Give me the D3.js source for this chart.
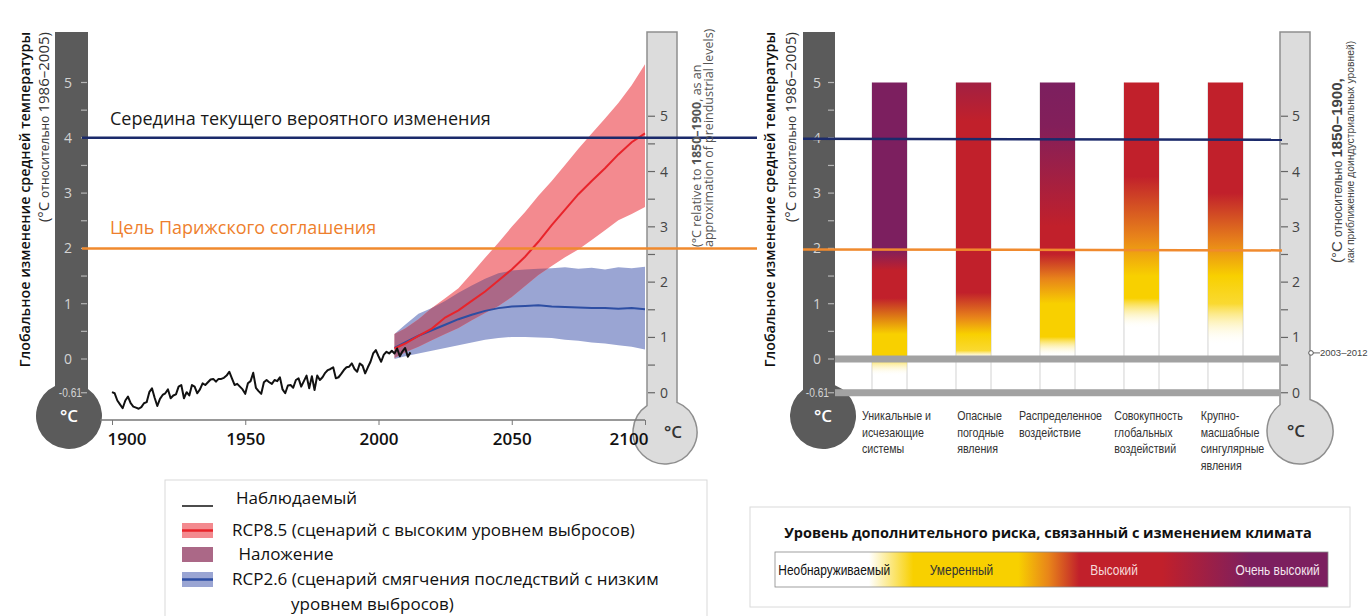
<!DOCTYPE html>
<html><head><meta charset="utf-8">
<script src="https://cdn.jsdelivr.net/npm/d3@7"></script>
<style>
body{margin:0;background:#fff;}
svg{display:block;}
</style></head><body>
<svg id="c" width="1368" height="616"></svg>
<script>
// ---------------- DATA ----------------
const obsStartYear = 1900;
const observed = [
-0.60,-0.62,-0.75,-0.82,-0.89,-0.75,-0.68,-0.80,-0.86,-0.88,
-0.90,-0.87,-0.80,-0.78,-0.60,-0.53,-0.70,-0.85,-0.72,-0.65,
-0.62,-0.55,-0.71,-0.66,-0.64,-0.50,-0.47,-0.71,-0.60,-0.66,
-0.47,-0.50,-0.62,-0.55,-0.44,-0.47,-0.42,-0.37,-0.36,-0.41,
-0.36,-0.36,-0.34,-0.30,-0.23,-0.35,-0.47,-0.45,-0.50,-0.55,
-0.63,-0.44,-0.40,-0.25,-0.52,-0.58,-0.63,-0.42,-0.38,-0.42,
-0.45,-0.38,-0.40,-0.33,-0.55,-0.62,-0.48,-0.47,-0.52,-0.38,
-0.35,-0.50,-0.40,-0.30,-0.53,-0.31,-0.56,-0.30,-0.38,-0.33,
-0.25,-0.20,-0.18,-0.15,-0.35,-0.33,-0.27,-0.20,-0.15,-0.14,
-0.08,-0.18,-0.23,-0.08,-0.12,-0.26,-0.15,-0.05,0.10,0.16,
0.05,-0.05,0.08,0.13,0.10,0.15,0.10,0.19,0.05,0.14,
0.20,0.04,0.12];
const projYears  = [2006,2010,2015,2020,2025,2030,2035,2040,2045,2050,2055,2060,2065,2070,2075,2080,2085,2090,2095,2100];
const rcp85Mean  = [0.19,0.28,0.42,0.55,0.75,0.88,1.05,1.22,1.42,1.62,1.85,2.12,2.42,2.70,2.98,3.22,3.45,3.70,3.92,4.08];
const rcp85High  = [0.45,0.55,0.72,0.92,1.10,1.28,1.55,1.83,2.10,2.39,2.66,2.95,3.22,3.51,3.80,4.08,4.35,4.63,4.95,5.33];
const rcp85Low   = [0.02,0.12,0.22,0.34,0.45,0.56,0.70,0.83,0.96,1.12,1.32,1.52,1.68,1.84,1.98,2.15,2.33,2.51,2.62,2.75];
const rcp26Mean  = [0.20,0.30,0.42,0.52,0.62,0.72,0.80,0.87,0.92,0.95,0.96,0.97,0.95,0.94,0.93,0.92,0.92,0.91,0.92,0.90];
const rcp26High  = [0.45,0.62,0.82,0.92,1.05,1.20,1.33,1.45,1.55,1.60,1.62,1.63,1.64,1.66,1.63,1.65,1.62,1.66,1.64,1.67];
const rcp26Low   = [0.00,0.05,0.10,0.15,0.20,0.25,0.30,0.35,0.38,0.40,0.40,0.39,0.38,0.35,0.33,0.30,0.28,0.25,0.22,0.17];
const yearTicks = [1900,1950,2000,2050,2100];
const tempTicks = [0,1,2,3,4,5];
const tempMinorTicks = [0.5,1.5,2.5,3.5,4.5];
const baselineOffset = 0.61;           // 1986-2005 relative to 1850-1900
const preindTicks = [0,1,2,3,4,5];
const preindMinorTicks = [0.5,1.5,2.5,3.5,4.5];
const likelyMidValue = 4;
const parisGoalValue = 2;
const period2003Value = 0.72;          // on the preindustrial scale
const period2003Label = "2003–2012";
const riskCategories = [
  ["Уникальные и","исчезающие","системы"],
  ["Опасные","погодные","явления"],
  ["Распределенное","воздействие"],
  ["Совокупность","глобальных","воздействий"],
  ["Крупно-","масшабные","сингулярные","явления"]];
// [temperature, risk level] 0 = undetectable, 1 = moderate, 2 = high, 3 = very high
const riskStops = [
  [[5,3],[2.0,3],[1.6,2],[1.1,2],[0.45,1],[0.05,1],[-0.3,0]],
  [[5,2.45],[4.3,2],[1.2,2],[0.75,1.5],[0.45,1],[0.15,0.9],[0,0]],
  [[5,3],[4.2,2.9],[2.4,2],[1.9,2],[1.45,1.5],[1.0,1],[0.4,1],[0.05,0]],
  [[5,2],[3.3,2],[2.2,1.5],[1.5,1],[1.1,1],[0.55,0]],
  [[5,2],[3.0,2],[2.1,1.5],[1.5,1],[1.0,0.9],[0.25,0]]];
const riskLevelNames = ["Необнаруживаемый","Умеренный","Высокий","Очень высокий"];
const riskLegendStops = [[0,0],[0.17,0],[0.25,1],[0.44,1],[0.495,1.5],[0.55,2],[0.70,2],[0.86,3],[1,3]];
const riskLegendTitle = "Уровень дополнительного риска, связанный с изменением климата";
const legendLabels = ["Наблюдаемый","RCP8.5 (сценарий с высоким уровнем выбросов)"," Наложение","RCP2.6 (сценарий смягчения последствий с низким","уровнем выбросов)"];

// ---------------- DRAW ----------------
const svg = d3.select("#c");
const defs = svg.append("defs");
const F = "'Open Sans', 'Noto Sans', sans-serif";
const FA = "'Liberation Sans', Arial, sans-serif";
const NAVY = "#1b2a6b", ORANGE = "#f08a2e";
const DARK = "#5b5b5b", LIGHT = "#dcdcdc", LIGHTSTROKE = "#8e8e8e";
const RED = "#e8242b", REDBAND = "#f38a8f", BLUE = "#2d4ea3", BLUEBAND = "#9aa5d3", OVERLAP = "#ab6887";

const x = d3.scaleLinear().domain([1900,2100]).range([112,645]);
const y = d3.scaleLinear().domain([0,5]).range([359,82.5]);
const yP = v => y(v - baselineOffset);
const riskColor = d3.scaleLinear().domain([0,1,1.5,2,3]).range(["#ffffff","#f8d000","#e8841a","#c1202b","#7c1f5f"]);

function narrow(sel, f){
  sel.each(function(){ const w=this.getComputedTextLength();
    d3.select(this).attr("textLength",w*f).attr("lengthAdjust","spacingAndGlyphs"); });
  return sel;
}
function thermo(o){
  const jr = o.cy - Math.sqrt(o.r*o.r - (o.tubeR-o.cx)**2);
  const jl = o.cy - Math.sqrt(o.r*o.r - (o.tubeL-o.cx)**2);
  svg.append("path")
    .attr("d",`M${o.tubeL},${o.top}H${o.tubeR}V${jr}A${o.r},${o.r} 0 1 1 ${o.tubeL},${jl}Z`)
    .attr("fill",o.fill).attr("stroke",o.stroke||"none").attr("stroke-width",1.5);
  svg.append("text").attr("x",o.cx+o.tx).attr("y",o.cy+6).attr("text-anchor","middle")
    .attr("font-family",F).attr("font-size",17).attr("font-weight",600).attr("fill",o.tc).text("°C");
}
function darkTicks(tubeR, labelX){
  const g = svg.append("g");
  g.selectAll(".mj").data(tempTicks.concat(tempMinorTicks,[-baselineOffset])).join("line")
    .attr("x1",tubeR-7).attr("x2",tubeR-1).attr("y1",d=>y(d)).attr("y2",d=>y(d))
    .attr("stroke","#b5b5b5").attr("stroke-width",1.2);
  g.selectAll(".lb").data(tempTicks).join("text")
    .attr("x",labelX).attr("y",d=>y(d)+5).attr("text-anchor","middle")
    .attr("font-family",F).attr("font-size",14).attr("fill","#d4d4d4").text(d=>d);
  narrow(g.append("text").attr("x",tubeR-6).attr("y",y(-baselineOffset)+4).attr("text-anchor","end")
    .attr("font-family",FA).attr("font-size",12).attr("fill","#d4d4d4").text("-0.61"),0.85);
}
function lightTicks(tubeL, labelX){
  const g = svg.append("g");
  g.selectAll(".mj").data(preindTicks.concat(preindMinorTicks)).join("line")
    .attr("x1",tubeL+1).attr("x2",tubeL+8).attr("y1",d=>yP(d)).attr("y2",d=>yP(d))
    .attr("stroke","#666").attr("stroke-width",1.2);
  g.selectAll(".lb").data(preindTicks).join("text")
    .attr("x",labelX).attr("y",d=>yP(d)+5).attr("text-anchor","middle")
    .attr("font-family",F).attr("font-size",14).attr("fill","#444").text(d=>d);
}
function vtext(xb, ya, anchor, parts, fill, font){
  const t = svg.append("text").attr("transform",`translate(${xb},${ya}) rotate(-90)`)
    .attr("text-anchor",anchor).attr("font-family",font||F).attr("fill",fill);
  parts.forEach(p=>t.append("tspan").attr("font-size",p.s).attr("font-weight",p.w||400).text(p.t));
  return t;
}

// ===== LEFT CHART =====
thermo({tubeL:647,tubeR:677,top:32,cx:665,cy:432,r:32,fill:LIGHT,stroke:LIGHTSTROKE,tx:8,tc:"#333"});
lightTicks(647, 664);
thermo({tubeL:55,tubeR:88,top:32,cx:69,cy:416,r:33,fill:DARK,tx:0,tc:"#fff"});
darkTicks(88, 68);

// bands
const areaGen = (lo,hi)=>d3.area().x((d,i)=>x(projYears[i])).y0((d,i)=>y(lo[i])).y1((d,i)=>y(hi[i]));
const lineGen = d3.line().x((d,i)=>x(projYears[i])).y(d=>y(d));
defs.append("clipPath").attr("id","blueClip").append("path").attr("d",areaGen(rcp26Low,rcp26High)(projYears));
svg.append("path").attr("d",areaGen(rcp26Low,rcp26High)(projYears)).attr("fill",BLUEBAND);
svg.append("path").attr("d",areaGen(rcp85Low,rcp85High)(projYears)).attr("fill",REDBAND);
svg.append("path").attr("d",areaGen(rcp85Low,rcp85High)(projYears)).attr("fill",OVERLAP).attr("clip-path","url(#blueClip)");
svg.append("path").attr("d",lineGen(rcp26Mean)).attr("fill","none").attr("stroke",BLUE).attr("stroke-width",2);
svg.append("path").attr("d",lineGen(rcp85Mean)).attr("fill","none").attr("stroke",RED).attr("stroke-width",2);
// observed
svg.append("path").attr("d",d3.line().x((d,i)=>x(obsStartYear+i)).y(d=>y(d))(observed))
  .attr("fill","none").attr("stroke","#111").attr("stroke-width",2).attr("stroke-linejoin","round");

// x axis
const ax = svg.append("g").attr("transform","translate(0,420)")
  .call(d3.axisBottom(x).tickValues(yearTicks).tickSize(5).tickPadding(8).tickFormat(d3.format("d")));
ax.select(".domain").attr("stroke","#777").attr("stroke-width",1.5).attr("d","M100,0H645");
ax.selectAll(".tick line").attr("stroke","#777");
ax.selectAll(".tick text").attr("font-family",F).attr("font-size",17).attr("font-weight",600).attr("fill","#111");
ax.selectAll(".tick text").filter(d=>d===1900).attr("text-anchor","start").attr("dx",-5);
ax.selectAll(".tick text").filter(d=>d===2100).attr("text-anchor","end").attr("dx",3);

// reference lines
svg.append("line").attr("x1",82).attr("x2",757).attr("y1",y(likelyMidValue)).attr("y2",y(likelyMidValue)).attr("stroke",NAVY).attr("stroke-width",2.5);
svg.append("line").attr("x1",82).attr("x2",757).attr("y1",y(parisGoalValue)).attr("y2",y(parisGoalValue)).attr("stroke",ORANGE).attr("stroke-width",2.5);
svg.append("text").attr("x",110).attr("y",y(likelyMidValue)-13).attr("font-family",F).attr("font-size",18).attr("fill","#1a1a1a").text("Середина текущего вероятного изменения");
svg.append("text").attr("x",110).attr("y",y(parisGoalValue)-14).attr("font-family",F).attr("font-size",18).attr("fill","#ee7f2d").text("Цель Парижского соглашения");

// rotated titles
vtext(30,32,"end",[{t:"Глобальное изменение средней температуры",s:14.3,w:600}],"#111");
vtext(49,32,"end",[{t:"(°C ",s:15},{t:"относительно ",s:12},{t:"1986–2005)",s:15}],"#333");
vtext(701,247,"start",[{t:"(°C relative to ",s:12.5},{t:"1850–1900",s:12.5,w:700},{t:", as an",s:12.5}],"#555");
vtext(713,247,"start",[{t:"approximation of preindustrial levels)",s:12.5}],"#555");

// left legend
svg.append("rect").attr("x",165).attr("y",480).attr("width",542).attr("height",145).attr("fill","#fff").attr("stroke","#d9d9d9");
const lg = svg.append("g").attr("font-family",F).attr("font-size",17).attr("fill","#111");
lg.append("line").attr("x1",182).attr("x2",213).attr("y1",506).attr("y2",506).attr("stroke","#111").attr("stroke-width",1.5);
lg.append("rect").attr("x",182).attr("y",523).attr("width",31).attr("height",15).attr("fill",REDBAND);
lg.append("line").attr("x1",182).attr("x2",213).attr("y1",530.5).attr("y2",530.5).attr("stroke",RED).attr("stroke-width",2.5);
lg.append("rect").attr("x",182).attr("y",547).attr("width",31).attr("height",15).attr("fill",OVERLAP);
lg.append("rect").attr("x",182).attr("y",572).attr("width",31).attr("height",15).attr("fill",BLUEBAND);
lg.append("line").attr("x1",182).attr("x2",213).attr("y1",579.5).attr("y2",579.5).attr("stroke",BLUE).attr("stroke-width",2.5);
[[236,504],[232,536],[234,560],[232,585],[291,610]].forEach((p,i)=>
  lg.append("text").attr("x",p[0]).attr("y",p[1]).attr("xml:space","preserve").text(legendLabels[i]));

// ===== RIGHT CHART =====
thermo({tubeL:1280,tubeR:1310,top:32,cx:1300,cy:431,r:33,fill:LIGHT,stroke:LIGHTSTROKE,tx:-4,tc:"#333"});
lightTicks(1280, 1296);
thermo({tubeL:803,tubeR:835,top:32,cx:823,cy:416,r:33,fill:DARK,tx:0,tc:"#fff"});
darkTicks(835, 817);

const xb = d3.scaleBand().domain(d3.range(riskCategories.length)).range([830,1285]).paddingInner(0.583).paddingOuter(0.5);
const bw = xb.bandwidth();
riskCategories.forEach((c,i)=>{
  [xb(i), xb(i)+bw].forEach(xx=>svg.append("line").attr("x1",xx).attr("x2",xx).attr("y1",y(5)).attr("y2",y(-baselineOffset)).attr("stroke","#d2d2d2").attr("stroke-width",1));
});
riskStops.forEach((stops,i)=>{
  const gr = defs.append("linearGradient").attr("id","rg"+i).attr("gradientUnits","userSpaceOnUse")
    .attr("x1",0).attr("x2",0).attr("y1",y(5)).attr("y2",y(-baselineOffset));
  stops.forEach(s=>gr.append("stop").attr("offset",(5-s[0])/(5+baselineOffset))
    .attr("stop-color",riskColor(Math.max(s[1],0.0001))).attr("stop-opacity",Math.min(1,s[1])));
  svg.append("rect").attr("x",xb(i)).attr("width",bw).attr("y",y(5)).attr("height",y(-baselineOffset)-y(5)).attr("fill",`url(#rg${i})`);
});
[0,-baselineOffset].forEach(v=>svg.append("rect").attr("x",835).attr("width",445).attr("y",y(v)-3.5).attr("height",7).attr("fill","#a2a2a2"));

svg.append("line").attr("x1",803).attr("x2",1282).attr("y1",y(likelyMidValue)+1).attr("y2",y(likelyMidValue)+2).attr("stroke",NAVY).attr("stroke-width",2.5);
svg.append("line").attr("x1",803).attr("x2",1282).attr("y1",y(parisGoalValue)+1).attr("y2",y(parisGoalValue)+2).attr("stroke",ORANGE).attr("stroke-width",2.5);

// category labels
riskCategories.forEach((lines,i)=>{
  const ts = lines.map((l,j)=>svg.append("text").attr("y",420+j*16.5).attr("font-family",FA)
    .attr("font-size",13).attr("fill","#333").text(l));
  ts.forEach(t=>narrow(t,0.82));
  const w = d3.max(ts,t=>+t.attr("textLength"));
  const left = xb(i)+bw/2+(i===2?3:7)-w/2;
  ts.forEach(t=>t.attr("x",left));
});

// 2003-2012 marker
svg.append("line").attr("x1",1311).attr("x2",1320).attr("y1",yP(period2003Value)).attr("y2",yP(period2003Value)).attr("stroke","#666");
svg.append("circle").attr("cx",1311).attr("cy",yP(period2003Value)).attr("r",2.3).attr("fill","#fff").attr("stroke","#555");
svg.append("text").attr("x",1320).attr("y",yP(period2003Value)+3.5).attr("font-family",FA).attr("font-size",9.5).attr("fill","#444").text(period2003Label);

// rotated titles right chart
vtext(775,32,"end",[{t:"Глобальное изменение средней температуры",s:14.3,w:600}],"#111");
vtext(796,32,"end",[{t:"(°C ",s:15},{t:"относительно ",s:12},{t:"1986–2005)",s:15}],"#333");
vtext(1342,263,"start",[{t:"(°C  ",s:15},{t:"относительно  ",s:12},{t:"1850–1900,",s:15,w:700}],"#444",FA);
vtext(1354,263,"start",[{t:"как приближение доиндустриальных уровней)",s:11.5}],"#444",FA).call(t=>narrow(t,0.9));

// risk legend
svg.append("rect").attr("x",750).attr("y",507).attr("width",600).attr("height",100).attr("fill","#fff").attr("stroke","#dadada");
svg.append("text").attr("x",1048).attr("y",538).attr("text-anchor","middle").attr("font-family",F).attr("font-size",14.5).attr("font-weight",700).attr("fill","#111").text(riskLegendTitle);
const lgr = defs.append("linearGradient").attr("id","legGrad");
riskLegendStops.forEach(s=>lgr.append("stop").attr("offset",s[0]).attr("stop-color",riskColor(s[1])));
const lx = d3.scaleLinear().domain([0,1]).range([775,1328]);
svg.append("rect").attr("x",lx(0)).attr("y",552).attr("width",lx(1)-lx(0)).attr("height",35).attr("fill","url(#legGrad)").attr("stroke","#888").attr("stroke-width",0.8);
const legPos = [[0.006,"start","#111"],[0.28,"start","#333"],[0.57,"start","#f6dada"],[0.985,"end","#f3e6ee"]];
riskLevelNames.forEach((n,i)=>narrow(svg.append("text").attr("x",lx(legPos[i][0])).attr("y",575).attr("text-anchor",legPos[i][1])
  .attr("font-family",FA).attr("font-size",14).attr("fill",legPos[i][2]).text(n),0.85));
</script>
</body></html>
